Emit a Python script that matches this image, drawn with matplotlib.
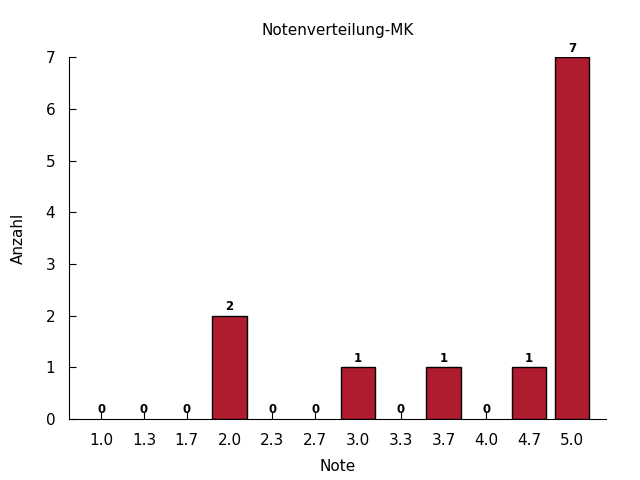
import matplotlib
matplotlib.use("Agg")
import matplotlib.pyplot as plt
import numpy as np

# Grades and number of students per grade
noten = ["1.0", "1.3", "1.7", "2.0", "2.3", "2.7", "3.0", "3.3", "3.7", "4.0", "4.7", "5.0"]
anzahl = [0, 0, 0, 2, 0, 0, 1, 0, 1, 0, 1, 7]

bar_color = "#AF1B2F"

fig = plt.figure(figsize=(6.4, 4.8), dpi=100)
ax = fig.add_axes([0.108, 0.127, 0.839, 0.754])

x = np.arange(len(noten))
# Bars with zero height get no outline
edges = ["black" if v > 0 else "none" for v in anzahl]
ax.bar(x, anzahl, width=0.8, color=bar_color, edgecolor=edges, linewidth=1)
ax.set_axisbelow(True)

# Value labels above each bar
for xi, v in zip(x, anzahl):
    ax.text(xi, v + 0.05, str(v), ha="center", va="bottom",
            fontsize=8.5, fontweight="bold")

ax.set_xlim(-0.75, len(noten) - 0.2)
ax.set_ylim(0, 7)
ax.set_xticks(x)
ax.set_xticklabels(noten)
ax.set_yticks(range(0, 8))

ax.spines["top"].set_visible(False)
ax.spines["right"].set_visible(False)
for s in ("left", "bottom"):
    ax.spines[s].set_zorder(3)
ax.tick_params(direction="in", length=5, labelsize=11, pad=10)

ax.set_title("Notenverteilung-MK", fontsize=11, pad=16)
ax.set_xlabel("Note", fontsize=11, labelpad=8)
ax.set_ylabel("Anzahl", fontsize=11, labelpad=14)

fig.savefig("out.png", dpi=100)
plt.close(fig)
